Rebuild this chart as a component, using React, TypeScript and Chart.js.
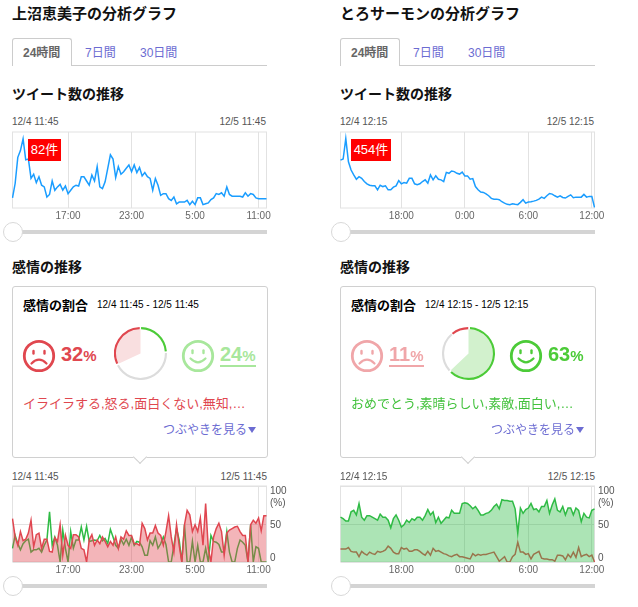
import { useEffect, useRef } from "react";
import type { CSSProperties, ReactNode } from "react";
import Chart from "chart.js/auto";

const FONT = '"Liberation Sans", "Noto Sans CJK JP", sans-serif';
const RED = "#e0474f";
const PALE_RED = "#f0a6a9";
const GREEN = "#4ccb38";
const PALE_GREEN = "#a8e79c";
const LINK = "#6c6cd2";

const leftHourTicks = ["17:00", "23:00", "5:00", "11:00"];
const rightHourTicks = ["18:00", "0:00", "6:00", "12:00"];

const leftTweets = [
  12, 29, 60, 68, 82, 57, 58, 35, 40, 30,
  37, 27, 25, 13, 16, 32, 21, 25, 28, 21,
  26, 17, 21, 25, 27, 26, 37, 37, 32, 27,
  39, 32, 49, 25, 23, 31, 47, 63, 58, 36,
  49, 40, 43, 47, 51, 43, 51, 42, 48, 38,
  42, 37, 35, 21, 35, 27, 15, 17, 17, 11,
  9, 13, 5, 7, 7, 7, 9, 4, 8, 4,
  12, 12, 4, 5, 6, 10, 12, 17, 16, 18,
  14, 25, 16, 14, 14, 14, 14, 13, 18, 14,
  17, 16, 12, 11, 11, 11, 11,
];

const rightTweets = [
  313, 320, 454, 302, 248, 216, 188, 205, 194, 173,
  158, 149, 145, 145, 119, 149, 140, 145, 119, 119,
  136, 145, 179, 158, 166, 162, 194, 194, 158, 153,
  158, 173, 184, 162, 216, 184, 210, 188, 184, 173,
  233, 227, 242, 238, 227, 222, 235, 210, 210, 188,
  192, 140, 119, 104, 102, 93, 80, 63, 58, 58,
  54, 41, 32, 24, 22, 28, 24, 22, 37, 54,
  32, 39, 41, 45, 50, 58, 71, 63, 80, 95,
  91, 80, 71, 80, 69, 65, 76, 86, 67, 71,
  71, 71, 89, 71, 76, 76, 4,
];

const leftNegative = [
  57, 33, 22, 40, 28, 30, 38, 55, 20, 36,
  38, 18, 30, 30, 14, 13, 32, 27, 49, 9,
  35, 22, 18, 36, 36, 33, 18, 16, 0, 29,
  36, 22, 29, 24, 33, 27, 20, 27, 22, 33,
  18, 33, 30, 41, 35, 35, 24, 24, 22, 51,
  44, 29, 38, 38, 48, 38, 35, 22, 40, 61,
  33, 13, 49, 22, 0, 49, 68, 62, 40, 49,
  40, 58, 22, 77, 18, 0, 33, 44, 51, 40,
  9, 38, 42, 44, 46, 47, 40, 35, 35, 0,
  49, 55, 51, 58, 41, 61, 61,
];

const leftPositive = [
  18, 35, 24, 16, 24, 28, 30, 13, 16, 16,
  18, 13, 22, 29, 66, 22, 33, 22, 0, 42,
  18, 0, 40, 18, 29, 29, 46, 29, 47, 27,
  28, 29, 28, 35, 28, 31, 24, 43, 33, 22,
  18, 30, 23, 30, 22, 33, 22, 27, 26, 20,
  9, 9, 28, 22, 33, 18, 24, 33, 23, 0,
  0, 22, 44, 29, 0, 49, 0, 0, 27, 0,
  22, 0, 0, 18, 0, 35, 27, 26, 23, 13,
  13, 40, 13, 0, 0, 18, 29, 26, 22, 0,
  49, 0, 20, 18, 0, 0, 0,
];

const rightPositive = [
  59, 57, 54, 54, 66, 68, 62, 77, 59, 55,
  61, 61, 59, 57, 55, 63, 59, 59, 55, 45,
  57, 62, 55, 46, 49, 55, 52, 57, 55, 59,
  59, 55, 61, 69, 62, 66, 52, 59, 51, 55,
  59, 58, 68, 64, 64, 64, 77, 78, 77, 74,
  70, 73, 68, 62, 62, 64, 65, 68, 73, 76,
  70, 82, 81, 81, 80, 80, 70, 38, 71, 64,
  69, 71, 77, 69, 70, 66, 73, 73, 81, 64,
  75, 83, 68, 66, 73, 62, 71, 71, 62, 71,
  68, 53, 64, 59, 58, 68, 70,
];

const rightNegative = [
  17, 17, 17, 19, 14, 13, 13, 7, 14, 11,
  9, 13, 11, 10, 14, 13, 14, 16, 21, 18,
  13, 11, 11, 19, 17, 18, 14, 14, 16, 16,
  14, 11, 9, 14, 9, 18, 14, 15, 13, 11,
  10, 8, 7, 9, 10, 7, 7, 6, 5, 4,
  11, 8, 10, 9, 10, 10, 11, 12, 13, 7,
  1, 4, 7, 0, 0, 7, 10, 26, 13, 13,
  10, 11, 4, 10, 12, 14, 5, 4, 4, 3,
  3, 1, 9, 9, 8, 3, 10, 6, 13, 6,
  19, 7, 9, 10, 7, 9, 0,
];

// positive, neutral, negative share of the ring
const leftShares = [24, 44, 32];
const rightShares = [63, 26, 11];

const makeLabels = (startHour: number, startMin: number, count: number) => {
  const out: string[] = [];
  for (let i = 0; i < count; i++) {
    const m = startHour * 60 + startMin + i * 15;
    out.push(`${Math.floor(m / 60) % 24}:${String(m % 60).padStart(2, "0")}`);
  }
  return out;
};

const plotFrame = {
  id: "plotFrame",
  beforeDatasetsDraw(chart: any) {
    const { ctx, chartArea: a } = chart;
    ctx.save();
    ctx.strokeStyle = "#e2e2e2";
    ctx.lineWidth = 1;
    ctx.strokeRect(a.left, a.top, a.right - a.left, a.bottom - a.top);
    ctx.restore();
  },
};

const LineCanvas = ({ top, height, labels, hourTicks, datasets, yMax, yStep }: any) => {
  const ref = useRef<HTMLCanvasElement>(null);
  useEffect(() => {
    if (!ref.current) return;
    const chart = new Chart(ref.current, {
      type: "line",
      data: { labels, datasets },
      plugins: [plotFrame],
      options: {
        animation: false,
        responsive: false,
        layout: { padding: { left: 12.5, right: 33.5, top: 1, bottom: 0 } },
        plugins: { legend: { display: false }, tooltip: { enabled: false } },
        elements: { point: { radius: 0 }, line: { tension: 0, borderWidth: 1.5 } },
        scales: {
          x: {
            grid: { color: "#e2e2e2", drawTicks: false },
            border: { display: false },
            afterBuildTicks: (scale: any) => {
              scale.ticks = scale.ticks.filter((t: any) =>
                hourTicks.includes(scale.getLabelForValue(t.value))
              );
            },
            afterFit: (scale: any) => {
              scale.height = 14;
            },
            ticks: {
              autoSkip: false,
              maxRotation: 0,
              padding: 2,
              color: "#666",
              font: { family: FONT, size: 10 },
            },
          },
          y: {
            min: 0,
            max: yMax,
            grid: { display: !!yStep, color: "#e2e2e2", drawTicks: false },
            border: { display: false },
            ticks: { display: false, stepSize: yStep },
          },
        },
      },
    });
    return () => {
      chart.destroy();
    };
  }, []);
  return (
    <canvas
      ref={ref}
      width={300}
      height={height}
      style={{ position: "absolute", left: 0, top, display: "block" }}
    />
  );
};

const ShareRing = ({ shares, wedge, wedgeColor }: any) => {
  const ref = useRef<HTMLCanvasElement>(null);
  useEffect(() => {
    if (!ref.current) return;
    const chart = new Chart(ref.current, {
      type: "doughnut",
      data: {
        labels: ["positive", "neutral", "negative"],
        datasets: [
          {
            data: shares,
            backgroundColor: [GREEN, "#dcdcdc", RED],
            borderWidth: 0,
            spacing: 1.5,
            weight: 1,
          },
          {
            data: wedge,
            backgroundColor: wedgeColor,
            borderWidth: 0,
            weight: 11,
          },
        ],
      },
      options: {
        animation: false,
        responsive: false,
        cutout: 0,
        plugins: { legend: { display: false }, tooltip: { enabled: false } },
      },
    });
    return () => {
      chart.destroy();
    };
  }, []);
  return (
    <canvas
      ref={ref}
      width={53}
      height={53}
      style={{ position: "absolute", left: 114, top: 327, display: "block" }}
    />
  );
};

const Text = ({ x, y, right, style, children }: { x?: number; y: number; right?: number; style?: CSSProperties; children: ReactNode }) => (
  <div
    style={{
      position: "absolute",
      left: x,
      right,
      top: y,
      transform: "translateY(-50%)",
      lineHeight: 1,
      whiteSpace: "nowrap",
      ...style,
    }}
  >
    {children}
  </div>
);

const Slider = ({ y }: { y: number }) => (
  <>
    <div style={{ position: "absolute", left: 12, width: 255, top: y - 2, height: 4, background: "#d4d4d4" }} />
    <div
      style={{
        position: "absolute",
        left: 2.5,
        top: y - 10,
        width: 16,
        height: 16,
        padding: 1,
        borderRadius: "50%",
        background: "#fff",
        border: "1.5px solid #d8d8d8",
      }}
    />
  </>
);

const Face = ({ cx, color, happy }: { cx: number; color: string; happy: boolean }) => (
  <svg
    width={36}
    height={36}
    viewBox="-18 -18 36 36"
    style={{ position: "absolute", left: cx - 18, top: 338 }}
    fill="none"
    stroke={color}
    strokeLinecap="round"
  >
    <circle r={14.7} strokeWidth={2.8} />
    {happy ? (
      <>
        <line x1={-5.5} y1={-5.5} x2={-5.5} y2={-3} strokeWidth={2.4} />
        <line x1={5.5} y1={-5.5} x2={5.5} y2={-3} strokeWidth={2.4} />
        <path d="M-7.5 2.5 Q0 10 7.5 2.5" strokeWidth={2.2} />
      </>
    ) : (
      <>
        <line x1={-5.5} y1={-5} x2={-5.5} y2={-2.5} strokeWidth={2.4} />
        <line x1={5.5} y1={-5} x2={5.5} y2={-2.5} strokeWidth={2.4} />
        <path d="M-7.5 7.5 Q0 0 7.5 7.5" strokeWidth={2.2} />
      </>
    )}
  </svg>
);

const Percent = ({ x, value, color, underlined }: { x: number; value: number; color: string; underlined: boolean }) => (
  <div
    style={{
      position: "absolute",
      left: x,
      top: 343,
      height: 22,
      lineHeight: "22px",
      color,
      fontWeight: "bold",
      fontSize: 20,
      whiteSpace: "nowrap",
      borderBottom: underlined ? `2px solid ${color}` : "2px solid transparent",
    }}
  >
    {value}
    <span style={{ fontSize: 15 }}>%</span>
  </div>
);

const Panel = ({
  left, title, start, end, tweetLabel, tweetLabelX, tweetLabelW, tweets, tweetMax, labels, hourTicks,
  datasets, shares, wedge, wedgeColor, words, wordColor, negActive,
}: any) => (
  <div style={{ position: "absolute", left, top: 0, width: 300, height: 607 }}>
    <Text x={12} y={13} style={{ fontSize: 15, fontWeight: "bold", color: "#111" }}>{title}</Text>

    <div style={{ position: "absolute", left: 12, top: 65, width: 255, height: 1, background: "#ccc" }} />
    <div
      style={{
        position: "absolute", left: 12, top: 38, width: 58, height: 27, background: "#fff",
        border: "1px solid #ccc", borderBottom: "none", borderRadius: "3px 3px 0 0",
      }}
    />
    <Text x={23} y={53} style={{ fontSize: 12, fontWeight: "bold", color: "#666" }}>24時間</Text>
    <Text x={85} y={53} style={{ fontSize: 12, color: LINK }}>7日間</Text>
    <Text x={140} y={53} style={{ fontSize: 12, color: LINK }}>30日間</Text>

    <Text x={12} y={94} style={{ fontSize: 14, fontWeight: "bold", color: "#111" }}>ツイート数の推移</Text>
    <Text x={12} y={122} style={{ fontSize: 10, color: "#555" }}>{start}</Text>
    <Text right={34} y={122} style={{ fontSize: 10, color: "#555" }}>{end}</Text>
    <LineCanvas
      top={131}
      height={91}
      labels={labels}
      hourTicks={hourTicks}
      yMax={tweetMax}
      datasets={[{ data: tweets, borderColor: "#1a9dff" }]}
    />
    <div
      style={{
        position: "absolute", left: tweetLabelX, top: 139, width: tweetLabelW, height: 22, lineHeight: "22px",
        background: "#f00", color: "#fff", fontSize: 13, textAlign: "center",
      }}
    >
      {tweetLabel}
    </div>
    <Slider y={232} />

    <Text x={12} y={267} style={{ fontSize: 14, fontWeight: "bold", color: "#111" }}>感情の推移</Text>

    <div
      style={{
        position: "absolute", left: 12, top: 286, width: 254, height: 170,
        border: "1px solid #d0d0d0", borderRadius: 3, background: "#fff",
      }}
    />
    <div
      style={{
        position: "absolute", left: 135, top: 452, width: 9, height: 9, background: "#fff",
        borderRight: "1px solid #d0d0d0", borderBottom: "1px solid #d0d0d0", transform: "rotate(45deg)",
      }}
    />
    <Text x={23} y={305} style={{ fontSize: 13, fontWeight: "bold", color: "#000" }}>感情の割合</Text>
    <Text x={97} y={305} style={{ fontSize: 10, color: "#000" }}>{`${start} - ${end}`}</Text>

    <Face cx={39} color={negActive ? RED : PALE_RED} happy={false} />
    <Percent x={61} value={shares[2]} color={negActive ? RED : PALE_RED} underlined={!negActive} />
    <ShareRing shares={shares} wedge={wedge} wedgeColor={wedgeColor} />
    <Face cx={198} color={negActive ? PALE_GREEN : GREEN} happy />
    <Percent x={220} value={shares[0]} color={negActive ? PALE_GREEN : GREEN} underlined={negActive} />

    <Text x={23} y={403} style={{ fontSize: 13, color: wordColor }}>{words}</Text>
    <Text x={163} y={430} style={{ fontSize: 12, color: LINK }}>つぶやきを見る</Text>
    <div
      style={{
        position: "absolute", left: 248, top: 427, width: 0, height: 0,
        borderLeft: "4.5px solid transparent", borderRight: "4.5px solid transparent", borderTop: "6px solid " + LINK,
      }}
    />

    <Text x={12} y={477} style={{ fontSize: 10, color: "#555" }}>{start}</Text>
    <Text right={33} y={477} style={{ fontSize: 10, color: "#555" }}>{end}</Text>
    <LineCanvas
      top={485}
      height={91}
      labels={labels}
      hourTicks={hourTicks}
      yMax={100}
      yStep={50}
      datasets={datasets}
    />
    <Text x={270} y={491} style={{ fontSize: 10, color: "#555" }}>100</Text>
    <Text x={270} y={503} style={{ fontSize: 10, color: "#555" }}>(%)</Text>
    <Text x={270} y={525} style={{ fontSize: 10, color: "#555" }}>50</Text>
    <Text x={270} y={558} style={{ fontSize: 10, color: "#555" }}>0</Text>
    <Slider y={586} />
  </div>
);

export default function App() {
  const leftLabels = makeLabels(11, 45, leftTweets.length);
  const rightLabels = makeLabels(12, 15, rightTweets.length);
  return (
    <div
      style={{
        position: "absolute", left: 0, top: 0, width: 638, height: 607, overflow: "hidden",
        background: "#fff", fontFamily: FONT,
      }}
    >
      <Panel
        left={0}
        title="上沼恵美子の分析グラフ"
        start="12/4 11:45"
        end="12/5 11:45"
        tweetLabel="82件"
        tweetLabelX={28}
        tweetLabelW={33}
        tweets={leftTweets}
        tweetMax={90}
        labels={leftLabels}
        hourTicks={leftHourTicks}
        datasets={[
          { data: leftNegative, borderColor: "#e04650", backgroundColor: "rgba(224,70,80,0.4)", fill: "origin" },
          { data: leftPositive, borderColor: "#2fbb45", fill: false },
        ]}
        shares={leftShares}
        wedge={[68, 32]}
        wedgeColor={["rgba(0,0,0,0)", "#f9dfe0"]}
        words="イライラする,怒る,面白くない,無知,…"
        wordColor={RED}
        negActive
      />
      <Panel
        left={328}
        title="とろサーモンの分析グラフ"
        start="12/4 12:15"
        end="12/5 12:15"
        tweetLabel="454件"
        tweetLabelX={23}
        tweetLabelW={40}
        tweets={rightTweets}
        tweetMax={497}
        labels={rightLabels}
        hourTicks={rightHourTicks}
        datasets={[
          { data: rightPositive, borderColor: "#2fbb45", backgroundColor: "rgba(47,187,69,0.4)", fill: "origin" },
          { data: rightNegative, borderColor: "#e04650", fill: false },
        ]}
        shares={rightShares}
        wedge={[63, 37]}
        wedgeColor={["#d2f1cd", "rgba(0,0,0,0)"]}
        words="おめでとう,素晴らしい,素敵,面白い,…"
        wordColor="#44c23e"
        negActive={false}
      />
    </div>
  );
}
